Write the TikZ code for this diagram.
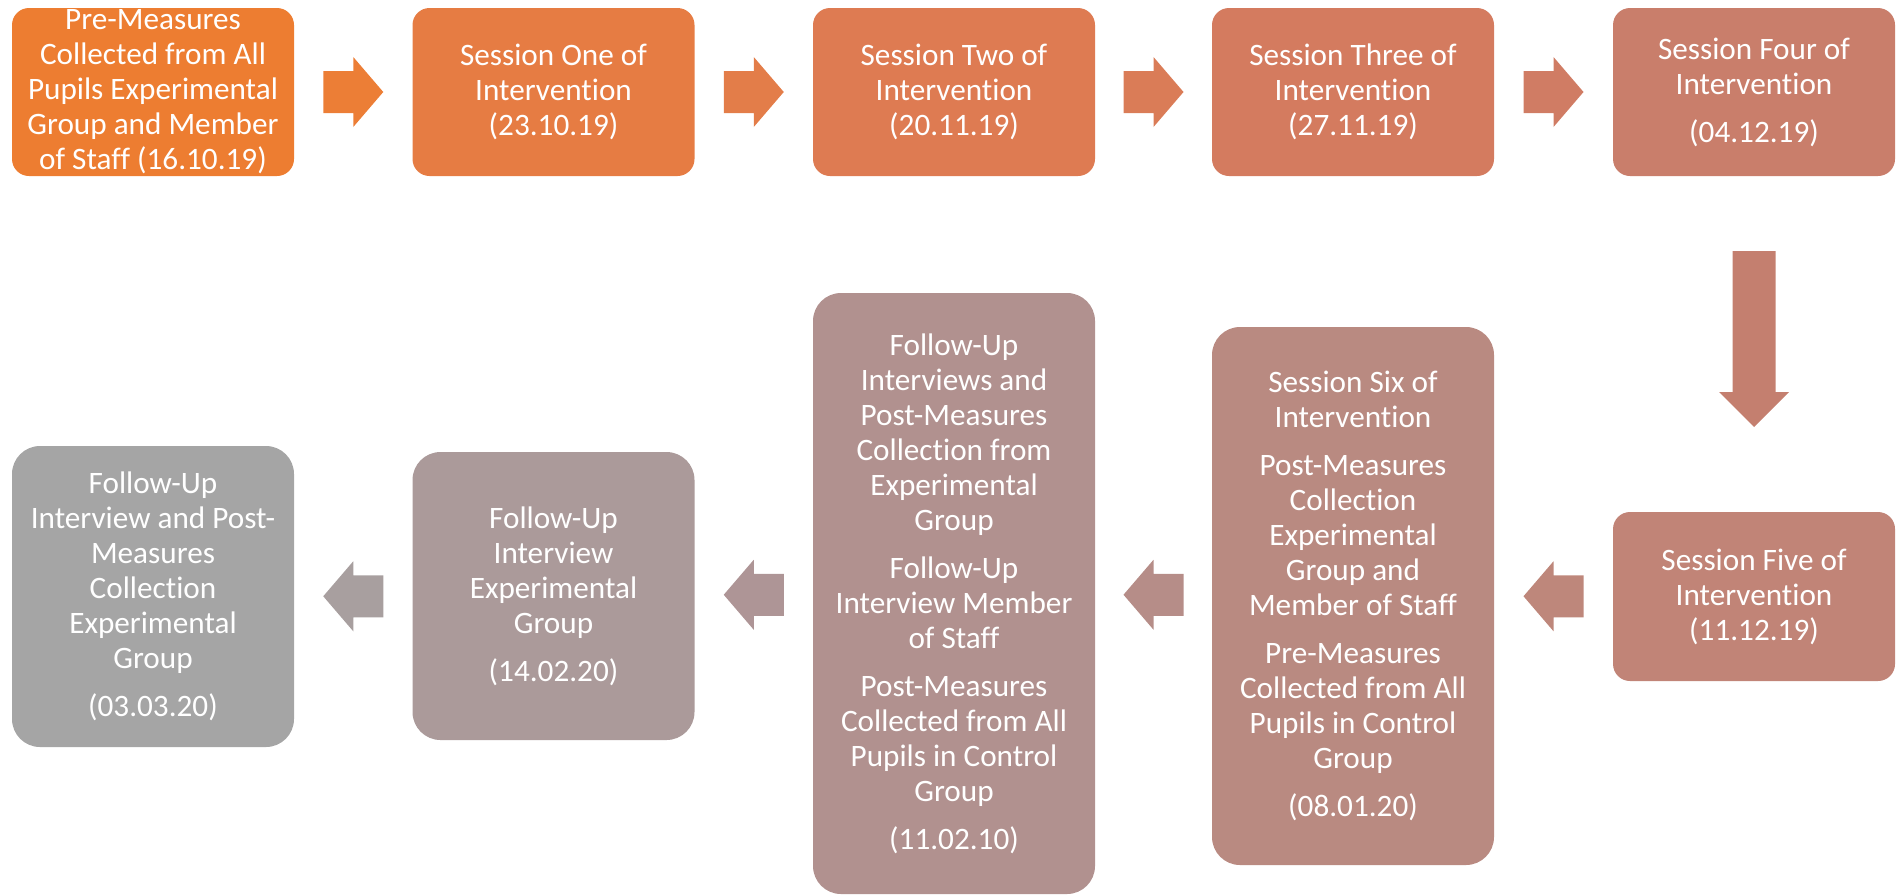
\documentclass[tikz,border=0pt]{standalone}
\usepackage{fontspec}
\setmainfont{Carlito}[Ligatures=NoCommon]
\usetikzlibrary{calc}
\definecolor{c1}{HTML}{ED7D31}
\definecolor{c2}{HTML}{E67C43}
\definecolor{c3}{HTML}{DE7B52}
\definecolor{c4}{HTML}{D47B5F}
\definecolor{c5}{HTML}{C97E6B}
\definecolor{c6}{HTML}{C18477}
\definecolor{c7}{HTML}{B98A81}
\definecolor{c8}{HTML}{B1918F}
\definecolor{c9}{HTML}{AB9A9A}
\definecolor{c10}{HTML}{A5A5A5}
\definecolor{a1}{HTML}{EC7E36}
\definecolor{a2}{HTML}{E37D49}
\definecolor{a3}{HTML}{DA7C57}
\definecolor{a4}{HTML}{D07C64}
\definecolor{a5}{HTML}{C47F6F}
\definecolor{a6}{HTML}{BE877B}
\definecolor{a7}{HTML}{B68D88}
\definecolor{a8}{HTML}{AE9596}
\definecolor{a9}{HTML}{A89F9F}
\newcommand\rarr[2]{\fill[#2, shift={(#1)}] (-30,-21) -- (0,-21) -- (0,-35) -- (30,0) -- (0,35) -- (0,21) -- (-30,21) -- cycle;}
\newcommand\larr[2]{\fill[#2, shift={(#1)}] (30,-21) -- (0,-21) -- (0,-35) -- (-30,0) -- (0,35) -- (0,21) -- (30,21) -- cycle;}
\newcommand\pgap{\\[6.5pt]}
\begin{document}
\begin{tikzpicture}[x=0.5pt,y=-0.5pt,
  box/.style={rectangle, text=white, align=center, inner sep=0pt,
    minimum width=141pt, font=\fontsize{15.6}{17.5}\selectfont},
  small/.style={rounded corners=8.5pt},
  big/.style={rounded corners=14pt}]
\useasboundingbox (0,0) rectangle (1899,895);
% top row
\node[box, small, fill=c1, minimum height=84pt] (b1) at (153,92)
  {Pre-Measures\\Collected from All\\Pupils Experimental\\Group and Member\\of Staff (16.10.19)};
\node[box, small, fill=c2, minimum height=84pt] (b2) at (553.5,92)
  {Session One of\\Intervention\\(23.10.19)};
\node[box, small, fill=c3, minimum height=84pt] (b3) at (954,92)
  {Session Two of\\Intervention\\(20.11.19)};
\node[box, small, fill=c4, minimum height=84pt] (b4) at (1353,92)
  {Session Three of\\Intervention\\(27.11.19)};
\node[box, small, fill=c5, minimum height=84pt] (b5) at (1754,92)
  {Session Four of\\Intervention\pgap(04.12.19)};
% bottom row
\node[box, small, fill=c6, minimum height=84.5pt] (b6) at (1754,596.5)
  {Session Five of\\Intervention\\(11.12.19)};
\node[box, big, fill=c7, minimum height=269pt] (b7) at (1353,596)
  {Session Six of\\Intervention\pgap Post-Measures\\Collection\\Experimental\\Group and\\Member of Staff\pgap Pre-Measures\\Collected from All\\Pupils in Control\\Group\pgap(08.01.20)};
\node[box, big, fill=c8, minimum height=300.5pt] (b8) at (954,593.5)
  {Follow-Up\\Interviews and\\Post-Measures\\Collection from\\Experimental\\Group\pgap Follow-Up\\Interview Member\\of Staff\pgap Post-Measures\\Collected from All\\Pupils in Control\\Group\pgap(11.02.10)};
\node[box, big, fill=c9, minimum height=144pt] (b9) at (553.5,596)
  {Follow-Up\\Interview\\Experimental\\Group\pgap(14.02.20)};
\node[box, big, fill=c10, minimum height=150.5pt] (b10) at (153,596.5)
  {Follow-Up\\Interview and Post-\\Measures\\Collection\\Experimental\\Group\pgap(03.03.20)};
% arrows
\coordinate (m12) at ($(b1.east)!0.5!(b2.west)$);
\coordinate (m23) at ($(b2.east)!0.5!(b3.west)$);
\coordinate (m34) at ($(b3.east)!0.5!(b4.west)$);
\coordinate (m45) at ($(b4.east)!0.5!(b5.west)$);
\coordinate (m56) at ($(b5.south)!0.5!(b6.north)+(0,-5)$);
\coordinate (m67) at ($(b6.west)!0.5!(b7.east)$);
\coordinate (m78) at ($(b7.west)!0.5!(b8.east)$);
\coordinate (m89) at ($(b8.west)!0.5!(b9.east)$);
\coordinate (m910) at ($(b9.west)!0.5!(b10.east)$);
\rarr{m12}{a1}
\rarr{m23}{a2}
\rarr{m34}{a3}
\rarr{m45}{a4}
\fill[a5, shift={(m56)}] (-21.5,-88) -- (21.5,-88) -- (21.5,53) -- (35,53) -- (0,88) -- (-35,53) -- (-21.5,53) -- cycle;
\larr{m67}{a6}
\larr{m78}{a7}
\larr{m89}{a8}
\larr{m910}{a9}
\end{tikzpicture}
\end{document}
